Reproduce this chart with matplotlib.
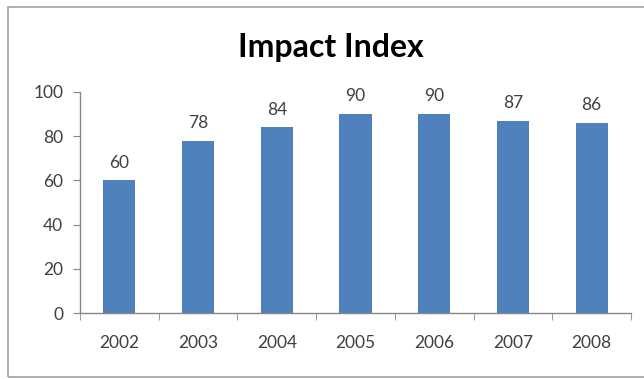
import matplotlib
matplotlib.use("Agg")
import matplotlib.pyplot as plt
from matplotlib.patches import Rectangle

years = ["2002", "2003", "2004", "2005", "2006", "2007", "2008"]
values = [60, 78, 84, 90, 90, 87, 86]
y_ticks = [0, 20, 40, 60, 80, 100]

plt.rcParams['font.family'] = ['Lato', 'DejaVu Sans']

W, H = 644, 379
fig = plt.figure(figsize=(W / 100, H / 100), dpi=100)
fig.patches.append(Rectangle((8/W, 2/H), 660/W, 370/H, transform=fig.transFigure,
                             fill=False, edgecolor="#a8a8a8", linewidth=1.3))

ax = fig.add_axes([80/W, (H - 313)/H, 551/W, 221/H])
x = list(range(len(years)))
ax.bar(x, values, width=0.41, color="#4f81bd", zorder=2)
for xi, v in zip(x, values):
    ax.annotate(str(v), (xi, v), xytext=(0, 7), textcoords="offset points",
                ha="center", va="bottom", fontsize=12.5, color="#404040")

ax.set_xlim(-0.5, len(years) - 0.5)
ax.set_ylim(0, 100)
ax.set_yticks(y_ticks)
ax.set_yticklabels([str(t) for t in y_ticks])
ax.set_xticks(x)
ax.set_xticklabels(years)
ax.set_xticks([i - 0.5 for i in range(len(years) + 1)], minor=True)
ax.tick_params(axis="x", which="major", length=0, pad=16, labelsize=12.5, labelcolor="#404040")
ax.tick_params(axis="x", which="minor", length=5, color="#868686", direction="out")
ax.tick_params(axis="y", length=5, color="#868686", direction="out", labelsize=12.5,
               labelcolor="#404040", pad=7)
for s in ["top", "right"]:
    ax.spines[s].set_visible(False)
for s in ["left", "bottom"]:
    ax.spines[s].set_color("#868686")
    ax.spines[s].set_linewidth(1)

fig.text(331/W, 1 - 57/H, "Impact Index", ha="center", va="baseline",
         fontsize=23, fontweight="bold", color="#000000")

fig.savefig("out.png", dpi=100)
